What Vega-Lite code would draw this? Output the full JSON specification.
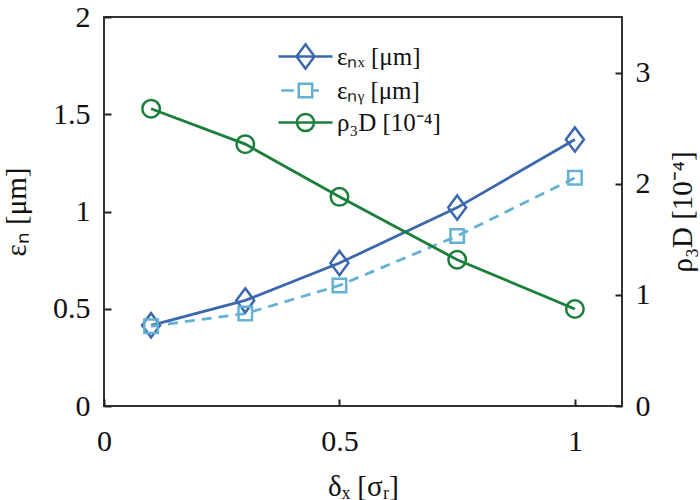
{
  "$schema": "https://vega.github.io/schema/vega-lite/v6.json",
  "width": 518,
  "height": 389,
  "autosize": {"type": "none"},
  "padding": {"left": 104, "top": 17, "right": 78, "bottom": 94},
  "background": "white",
  "config": {
    "view": {"stroke": "#333333", "strokeWidth": 2},
    "font": "Liberation Serif",
    "axis": {
      "domain": false,
      "grid": false,
      "labelFlush": false,
      "labelFont": "Liberation Serif",
      "labelFontSize": 30,
      "labelColor": "#111111",
      "titleFont": "Liberation Serif",
      "titleFontSize": 29,
      "titleFontWeight": "normal",
      "titleColor": "#111111"
    },
    "legend": {"padding": 0}
  },
  "data": {
    "values": [
      {"x": 0.1, "series": "εₙₓ [μm]", "value": 0.415},
      {"x": 0.3, "series": "εₙₓ [μm]", "value": 0.543},
      {"x": 0.5, "series": "εₙₓ [μm]", "value": 0.735},
      {"x": 0.75, "series": "εₙₓ [μm]", "value": 1.02},
      {"x": 1.0, "series": "εₙₓ [μm]", "value": 1.37},
      {"x": 0.1, "series": "εₙᵧ [μm]", "value": 0.41},
      {"x": 0.3, "series": "εₙᵧ [μm]", "value": 0.475},
      {"x": 0.5, "series": "εₙᵧ [μm]", "value": 0.62},
      {"x": 0.75, "series": "εₙᵧ [μm]", "value": 0.874},
      {"x": 1.0, "series": "εₙᵧ [μm]", "value": 1.173},
      {"x": 0.1, "series": "ρ₃D [10⁻⁴]", "value": 2.675},
      {"x": 0.3, "series": "ρ₃D [10⁻⁴]", "value": 2.356},
      {"x": 0.5, "series": "ρ₃D [10⁻⁴]", "value": 1.882},
      {"x": 0.75, "series": "ρ₃D [10⁻⁴]", "value": 1.316},
      {"x": 1.0, "series": "ρ₃D [10⁻⁴]", "value": 0.873}
    ]
  },
  "encoding": {
    "x": {
      "field": "x",
      "type": "quantitative",
      "scale": {"domain": [0, 1.1], "nice": false, "zero": false},
      "axis": {"values": [0, 0.5, 1], "format": "~g", "title": "δₓ [σᵣ]", "ticks": true, "offset": -7, "tickSize": 7, "tickWidth": 2, "tickColor": "#222222", "tickOpacity": 1, "labelPadding": 20, "titlePadding": 16}
    }
  },
  "layer": [
    {
      "encoding": {
        "y": {
          "field": "value",
          "type": "quantitative",
          "scale": {"domain": [0, 2], "nice": false},
          "axis": {"orient": "left", "values": [0, 0.5, 1, 1.5, 2], "format": "~g", "title": "εₙ [μm]", "ticks": true, "offset": -7, "tickSize": 7, "tickWidth": 2, "tickColor": "#222222", "tickOpacity": 1, "labelPadding": 14, "titlePadding": 21}
        }
      },
      "layer": [
        {
          "transform": [{"filter": "datum.series === 'εₙₓ [μm]'"}],
          "mark": {"type": "line", "strokeWidth": 2.8, "color": "#3B67AD"},
          "encoding": {}
        },
        {
          "transform": [{"filter": "datum.series === 'εₙᵧ [μm]'"}],
          "mark": {"type": "line", "strokeWidth": 2.8, "color": "#64B1D4", "strokeDash": [10, 7]},
          "encoding": {}
        },
        {
          "transform": [{"filter": "datum.series === 'εₙₓ [μm]'"}],
          "mark": {"type": "point", "filled": false, "strokeWidth": 2.5, "opacity": 1, "color": "#3B67AD", "shape": "M0,-1.35L1,0L0,1.35L-1,0Z", "size": 324}
        },
        {
          "transform": [{"filter": "datum.series === 'εₙᵧ [μm]'"}],
          "mark": {"type": "point", "filled": false, "strokeWidth": 2.5, "opacity": 1, "color": "#64B1D4", "shape": "square", "size": 182}
        },
        {
          "mark": {"type": "point", "filled": false, "opacity": 0, "size": 324, "strokeWidth": 2.5},
          "encoding": {
            "color": {
              "field": "series",
              "type": "nominal",
              "scale": {
                "domain": ["εₙₓ [μm]", "εₙᵧ [μm]", "ρ₃D [10⁻⁴]"],
                "range": ["#3B67AD", "#64B1D4", "#1B7F3B"]
              },
              "legend": {
                "orient": "none",
                "legendX": 189,
                "legendY": 27,
                "title": null,
                "symbolSize": 324,
                "symbolStrokeWidth": 2.5,
                "symbolOpacity": 1,
                "labelFont": "Liberation Serif",
                "labelFontSize": 25,
                "labelColor": "#111111",
                "labelOffset": 19,
                "rowPadding": 4,
                "labelLimit": 300
              }
            },
            "shape": {
              "field": "series",
              "type": "nominal",
              "scale": {
                "domain": ["εₙₓ [μm]", "εₙᵧ [μm]", "ρ₃D [10⁻⁴]"],
                "range": [
                  "M-3,0H3M0,-1.35L1,0L0,1.35L-1,0Z",
                  "M-2.7,0H-1.3M-0.75,-0.75H0.75V0.75H-0.75ZM0.75,0H1.5",
                  "M-3,0H3M0.95,0A0.95,0.95,0,1,1,-0.95,0A0.95,0.95,0,1,1,0.95,0Z"
                ]
              },
              "legend": {
                "orient": "none",
                "legendX": 189,
                "legendY": 27,
                "title": null,
                "symbolSize": 324,
                "symbolStrokeWidth": 2.5,
                "symbolOpacity": 1,
                "labelFont": "Liberation Serif",
                "labelFontSize": 25,
                "labelColor": "#111111",
                "labelOffset": 19,
                "rowPadding": 4,
                "labelLimit": 300
              }
            }
          }
        }
      ]
    },
    {
      "transform": [{"filter": "datum.series === 'ρ₃D [10⁻⁴]'"}],
      "encoding": {
        "y": {
          "field": "value",
          "type": "quantitative",
          "scale": {"domain": [0, 3.5], "nice": false},
          "axis": {"orient": "right", "values": [0, 1, 2, 3], "format": "~g", "title": "ρ₃D [10⁻⁴]", "titleAngle": 270, "titleBaseline": "top", "ticks": true, "offset": -7, "tickSize": 7, "tickWidth": 2, "tickColor": "#222222", "tickOpacity": 1, "labelPadding": 13, "titlePadding": 18}
        }
      },
      "layer": [
        {
          "mark": {"type": "line", "strokeWidth": 2.8, "color": "#1B7F3B"},
          "encoding": {}
        },
        {
          "mark": {"type": "point", "filled": false, "strokeWidth": 2.5, "opacity": 1, "color": "#1B7F3B", "shape": "circle", "size": 306}
        }
      ]
    }
  ],
  "resolve": {"scale": {"y": "independent"}}
}
